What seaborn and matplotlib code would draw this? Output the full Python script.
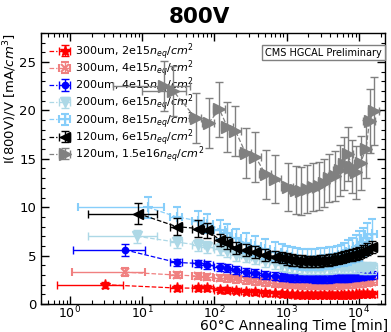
import numpy as np
import pandas as pd
import matplotlib
matplotlib.use("Agg")
import matplotlib.pyplot as plt
import seaborn as sns
from matplotlib.legend_handler import HandlerTuple
from matplotlib.ticker import MultipleLocator, LogLocator, NullFormatter

# ---------------- data ----------------
T_long = [30, 60, 80, 120, 150, 200, 270, 370, 500, 700, 850, 1000, 1200, 1400,
          1650, 1900, 2200, 2500, 2900, 3300, 3800, 4300, 5000, 5600, 6300, 7000,
          8000, 9000, 10000, 11500, 13000, 15000]

labels = [r"300um, 2e15$n_{eq}/cm^2$", r"300um, 4e15$n_{eq}/cm^2$",
          r"200um, 4e15$n_{eq}/cm^2$", r"200um, 6e15$n_{eq}/cm^2$",
          r"200um, 8e15$n_{eq}/cm^2$", r"120um, 6e15$n_{eq}/cm^2$",
          r"120um, 1.5e16$n_{eq}/cm^2$"]

# first (long, unannealed) points
t_first = [3.1, 5.8, 5.8, 8.5, 12, 8.8]
t_first_lo = [0.66, 1.07, 1.1, 1.8, 1.3, 1.8]
t_first_hi = [5.4, 11, 11, 16, 20, 16]

red_vals = [2.0, 1.66, 1.65, 1.65, 1.5, 1.45, 1.4, 1.3, 1.25, 1.15, 1.1, 1.05, 1.0, 1.0,
            0.95, 0.95, 0.95, 0.9, 0.9, 0.9, 0.9, 0.9, 0.9, 0.9, 0.95, 0.95, 0.95, 0.95,
            1.0, 1.0, 1.0, 1.05, 1.05]
pink_vals = [3.3, 3.0, 2.9, 2.8, 2.7, 2.65, 2.55, 2.45, 2.35, 2.25, 2.15, 2.1, 2.05, 2.0,
             2.0, 1.95, 1.95, 1.95, 1.9, 1.9, 1.9, 1.9, 1.95, 1.95, 1.95, 2.0, 2.0, 2.05,
             2.1, 2.1, 2.15, 2.2, 2.3]
blue_vals = [5.6, 4.3, 4.2, 4.05, 3.85, 3.7, 3.5, 3.3, 3.2, 3.0, 2.9, 2.8, 2.75, 2.7,
             2.7, 2.65, 2.65, 2.65, 2.6, 2.6, 2.6, 2.6, 2.65, 2.65, 2.7, 2.7, 2.7, 2.75,
             2.8, 2.85, 2.9, 2.95, 3.0]
lblue_vals = [7.0, 6.4, 6.1, 5.9, 5.7, 5.5, 5.1, 4.9, 4.7, 4.4, 4.2, 4.05, 3.9, 3.85,
              3.8, 3.75, 3.75, 3.75, 3.75, 3.75, 3.75, 3.75, 3.8, 3.8, 3.8, 3.8, 3.85,
              3.85, 3.8, 3.8, 3.75, 3.7, 3.7]
sky_vals = [10.0, 9.0, 8.6, 8.3, 7.7, 7.3, 6.8, 6.3, 6.0, 5.7, 5.4, 5.2, 5.0, 4.8,
            4.7, 4.6, 4.6, 4.6, 4.6, 4.65, 4.7, 4.75, 4.8, 4.9, 5.0, 5.15, 5.3, 5.5,
            5.7, 6.0, 6.4, 6.8, 7.2]
black_vals = [9.35, 8.0, 7.8, 7.6, 6.6, 6.3, 5.8, 5.6, 5.4, 5.1, 4.9, 4.8, 4.65, 4.55,
              4.5, 4.45, 4.4, 4.4, 4.4, 4.45, 4.5, 4.55, 4.6, 4.7, 4.8, 4.9, 5.0, 5.1,
              5.2, 5.3, 5.5, 5.7, 5.9]

yerr_red = [0.3] * 33
yerr_pink = [0.4] + [0.35] * 32
yerr_blue = [0.6] + [0.4] * 32
yerr_lblue = [0.7] + [0.6] * 32
yerr_sky = [1.1] + [1.0] * 12 + [1.1] * 12 + [1.2, 1.3, 1.3, 1.4, 1.5, 1.5, 1.6, 1.6]
yerr_black = [1.1, 0.9, 0.9, 0.8] + [0.6] * 29

gray_t = [20, 27, 55, 83, 117, 151, 195, 270, 370, 510, 700, 1030, 1330, 1600, 1900,
          2300, 2800, 3300, 3900, 4600, 5400, 6200, 7000, 8000, 9000, 10500, 12500,
          14000, 16000]
gray_vals = [22.5, 22.0, 19.2, 18.7, 20.1, 18.3, 17.9, 15.6, 15.2, 13.4, 12.9, 12.1,
             11.8, 11.7, 11.9, 12.1, 12.2, 12.5, 13.0, 13.2, 13.8, 14.5, 15.5, 14.2,
             13.6, 14.6, 16.0, 18.9, 19.9]
gray_err = [2.6, 2.6, 2.6, 2.6, 2.8, 2.6, 2.6, 2.6, 2.6, 2.5, 2.5, 2.5, 2.5, 2.5, 2.5,
            2.5, 2.5, 2.5, 2.5, 2.6, 2.6, 2.7, 2.8, 2.7, 2.7, 2.8, 3.0, 3.3, 3.5]
gray_xlo = [4, 10]
gray_xhi = [46, 40]

colors = ["red", "lightcoral", "blue", "lightblue", "lightskyblue", "black", "gray"]
markers = ["*", "x", "o", "v", "+", "<", ">"]
msizes = [8, 6, 4.5, 7, 7, 7, 8]
rel_xerr = 0.18

# ---------------- plotting ----------------
sns.set_style("ticks")
plt.rcParams['font.family'] = ['DejaVu Sans']
for k in ("text.color", "axes.labelcolor", "xtick.color", "ytick.color", "axes.edgecolor"):
    plt.rcParams[k] = "black"

fig = plt.figure(figsize=(3.91, 3.32), dpi=100)
ax = fig.add_axes([0.105, 0.084, 0.880, 0.817])

series = [red_vals, pink_vals, blue_vals, lblue_vals, sky_vals, black_vals]
yerrs = [yerr_red, yerr_pink, yerr_blue, yerr_lblue, yerr_sky, yerr_black]

handles = []
for i in range(7):
    if i < 6:
        t = [t_first[i]] + T_long
        v = series[i]
        ye = yerrs[i]
        xlo = [t_first[i] - t_first_lo[i]] + [rel_xerr * x for x in T_long]
        xhi = [t_first_hi[i] - t_first[i]] + [rel_xerr * x for x in T_long]
    else:
        t = gray_t
        v = gray_vals
        ye = gray_err
        xlo = [gray_t[0] - gray_xlo[0], gray_t[1] - gray_xlo[1]] + [rel_xerr * x for x in gray_t[2:]]
        xhi = [gray_xhi[0] - gray_t[0], gray_xhi[1] - gray_t[1]] + [rel_xerr * x for x in gray_t[2:]]
    df = pd.DataFrame({"t": t, "v": v})
    sns.lineplot(data=df, x="t", y="v", ax=ax, color=colors[i], linestyle="--",
                 linewidth=0.9, legend=False, zorder=2 + i, sort=True)
    line = ax.lines[-1]
    cont = ax.errorbar(t, v, yerr=ye, xerr=[xlo, xhi], fmt=markers[i], color=colors[i],
                       ms=msizes[i], mew=1.5 if markers[i] in ("x", "+") else 1,
                       elinewidth=1, capsize=3, linestyle="none", zorder=3 + i)
    handles.append((line, cont))

ax.set_xscale("log")
ax.set_xlim(0.4, 23000)
ax.set_ylim(0, 28)

ax.yaxis.set_major_locator(MultipleLocator(5))
ax.yaxis.set_minor_locator(MultipleLocator(1))
ax.xaxis.set_major_locator(LogLocator(base=10, numticks=12))
ax.xaxis.set_minor_locator(LogLocator(base=10, subs=np.arange(2, 10), numticks=12))
ax.xaxis.set_minor_formatter(NullFormatter())
ax.tick_params(which="both", direction="in", top=True, right=True, labelsize=9.5,
               colors="black")
ax.tick_params(axis="x", which="major", pad=0.5, labelsize=9)
ax.tick_params(which="major", length=6, width=1)
ax.tick_params(which="minor", length=3, width=0.8)
for s in ax.spines.values():
    s.set_color("black")
    s.set_linewidth(1)

ax.set_xlabel("60°C Annealing Time [min]", fontsize=10, loc="right")
ax.xaxis.set_label_coords(1.01, -0.056)
ax.set_ylabel(r"I(800V)/V [mA/$cm^3$]", fontsize=9.5, labelpad=0, loc="top")
fig.text(0.51, 0.978, "800V", fontsize=15.5, fontweight="bold", ha="center", va="top")

ax.legend(handles, labels, handler_map={tuple: HandlerTuple(ndivide=None)},
          loc="upper left", bbox_to_anchor=(0.0, 1.0), frameon=False, fontsize=8,
          labelspacing=-0.34, handlelength=1.8, handletextpad=0.6, borderaxespad=0.3)

ax.text(0.99, 0.946, "CMS HGCAL Preliminary", transform=ax.transAxes, ha="right",
        va="top", fontsize=7,
        bbox=dict(facecolor="white", edgecolor="gray", boxstyle="square,pad=0.3"))

fig.savefig("out.png", dpi=100)
